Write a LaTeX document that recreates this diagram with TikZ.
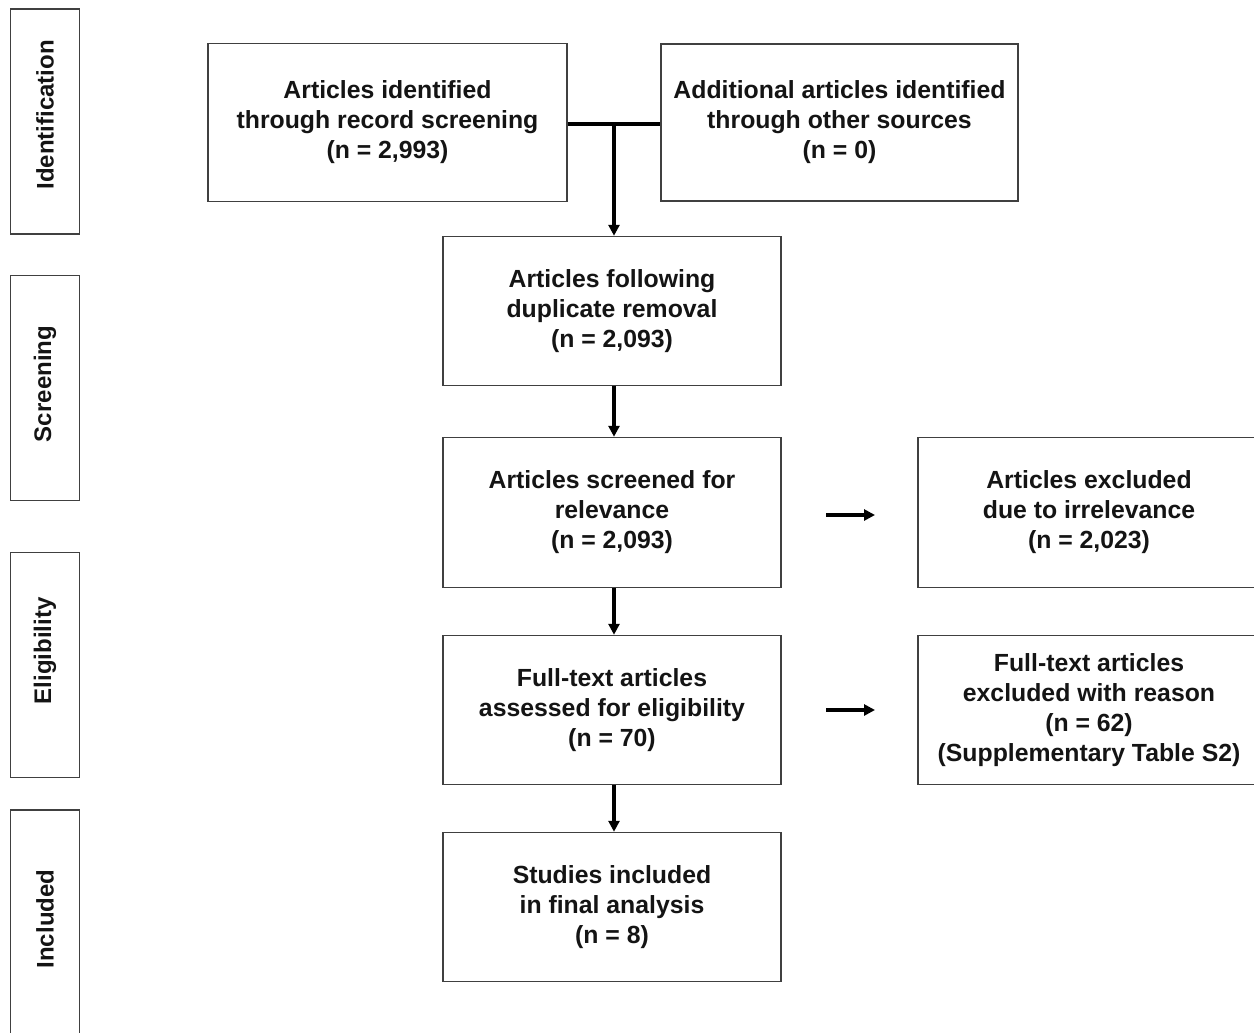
\documentclass[tikz,border=0pt]{standalone}
\usepackage{fontspec}
\setmainfont{Liberation Sans}
\usetikzlibrary{arrows.meta}
\begin{document}
\begin{tikzpicture}[x=1pt,y=-1pt,
  box/.style={draw=black!75,line width=1.5pt,fill=white,align=center,inner sep=0pt,
    text=black!92,font=\fontsize{24.8}{30}\selectfont\bfseries},
  mainbox/.style={box,minimum width=338pt,minimum height=149pt},
  sidebox/.style={box,minimum width=342pt,minimum height=150pt},
  topbox/.style={box,minimum width=359pt,minimum height=158pt},
  phase/.style={draw=black!75,line width=1.5pt,minimum width=69pt,minimum height=225pt,inner sep=0pt},
  phasetext/.style={rotate=90,text=black!92,font=\fontsize{24}{28}\selectfont\bfseries},
  conn/.style={line width=3.5pt,black},
  arr/.style={line width=3.2pt,black,-{Triangle[length=11pt,width=11pt]}}
]
\useasboundingbox (0,0) rectangle (1254,1033);
% phase labels
\node[phase] (p1) at (45,121.5) {};
\node[phasetext] (t1) at (45,115) {Identification};
\node[phase] (p2) at (45,388) {};
\node[phasetext] (t2) at (45,384) {Screening};
\node[phase] (p3) at (45,665) {};
\node[phasetext] (t3) at (45,651) {Eligibility};
\node[phase] (p4) at (45,922.5) {};
\node[phasetext] (t4) at (45,919) {Included};
% boxes
\node[topbox] (A) at (387.5,122.5) {Articles identified\\through record screening\\(n = 2,993)};
\node[topbox,minimum width=357pt,minimum height=157pt] (B) at (839.5,122.5) {Additional articles identified\\through other sources\\(n = 0)};
\node[mainbox] (C) at (612,311) {Articles following\\duplicate removal\\(n = 2,093)};
\node[mainbox,minimum height=150pt] (D) at (612,512.5) {Articles screened for\\relevance\\(n = 2,093)};
\node[sidebox] (E) at (1089,512.5) {Articles excluded\\due to irrelevance\\(n = 2,023)};
\node[mainbox] (F) at (612,710) {Full-text articles\\assessed for eligibility\\(n = 70)};
\node[sidebox,minimum height=149pt] (G) at (1089,710) {Full-text articles\\excluded with reason\\(n = 62)\\(Supplementary Table S2)};
\node[mainbox] (H) at (612,907) {Studies included\\in final analysis\\(n = 8)};
% connectors
\coordinate (j) at (614,124);
\draw[conn] (A.east |- j) -- (B.west |- j);
\draw[arr] (j) -- (j |- C.north);
\draw[arr] ([xshift=2pt]C.south) -- ([xshift=2pt]D.north);
\draw[arr] ([xshift=2pt]D.south) -- ([xshift=2pt]F.north);
\draw[arr] ([xshift=2pt]F.south) -- ([xshift=2pt]H.north);
\coordinate (e1) at (826,515);
\coordinate (e2) at (875,515);
\draw[arr] (e1) -- (e2);
\coordinate (g1) at (826,710);
\coordinate (g2) at (875,710);
\draw[arr] (g1) -- (g2);
\end{tikzpicture}
\end{document}
